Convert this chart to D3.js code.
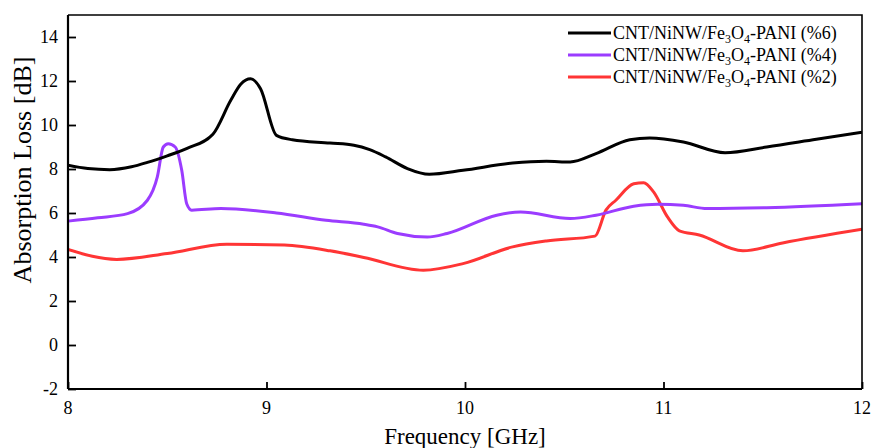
<!DOCTYPE html>
<html>
<head>
<meta charset="utf-8">
<script src="https://cdn.jsdelivr.net/npm/d3@7/dist/d3.min.js"></script>
<style>
  html, body { margin: 0; padding: 0; background: #fff; }
  svg { display: block; font-family: "Liberation Serif", "Times New Roman", serif; }
</style>
</head>
<body>
<svg id="chart" width="873" height="448"></svg>
<script>
// Frequency sweep, GHz
const xTicks = [8, 9, 10, 11, 12];
const yTicks = [-2, 0, 2, 4, 6, 8, 10, 12, 14];

// Absorption loss (dB) for each filler loading, sampled as [frequency, value]
const loading6 = [
  [8.00, 8.17], [8.10, 8.02], [8.21, 7.97], [8.32, 8.10], [8.40, 8.30], [8.50, 8.60],
  [8.60, 8.94], [8.73, 9.58], [8.82, 11.12], [8.87, 11.85], [8.92, 12.10], [8.97, 11.65],
  [9.05, 9.53], [9.13, 9.33], [9.32, 9.18], [9.44, 9.08], [9.52, 8.88], [9.60, 8.55],
  [9.71, 8.02], [9.82, 7.76], [9.99, 7.94], [10.24, 8.27], [10.41, 8.35], [10.53, 8.32],
  [10.66, 8.70], [10.83, 9.33], [10.93, 9.41], [11.10, 9.23], [11.31, 8.74], [11.52, 9.00],
  [11.77, 9.35], [12.00, 9.67]
];
const loading4 = [
  [8.00, 5.63], [8.15, 5.78], [8.30, 5.97], [8.40, 6.58], [8.45, 7.64], [8.48, 9.00],
  [8.505, 9.15], [8.54, 9.00], [8.573, 7.94], [8.598, 6.42], [8.623, 6.13], [8.77, 6.20],
  [9.05, 6.00], [9.30, 5.67], [9.49, 5.49], [9.56, 5.37], [9.66, 5.07], [9.81, 4.91],
  [9.91, 5.07], [10.16, 5.90], [10.28, 6.05], [10.53, 5.75], [10.66, 5.90], [10.85, 6.31],
  [10.97, 6.40], [11.10, 6.35], [11.22, 6.20], [11.52, 6.24], [12.00, 6.42]
];
const loading2 = [
  [8.00, 4.34], [8.245, 3.89], [8.50, 4.16], [8.80, 4.58], [9.09, 4.54], [9.32, 4.28],
  [9.49, 3.98], [9.79, 3.40], [9.99, 3.70], [10.24, 4.46], [10.41, 4.73], [10.655, 4.95],
  [10.71, 6.13], [10.76, 6.58], [10.85, 7.33], [10.90, 7.38], [10.95, 6.96], [11.02, 5.82],
  [11.08, 5.19], [11.18, 5.00], [11.40, 4.28], [11.60, 4.64], [12.00, 5.26]
];

const series = [
  { name: "(%6)", values: loading6, color: "#000000" },
  { name: "(%4)", values: loading4, color: "#9b3cff" },
  { name: "(%2)", values: loading2, color: "#ff3535" }
];

const svg = d3.select("#chart");
const margin = { top: 15, right: 11, bottom: 59, left: 68 };
const W = 873, H = 448;
const innerW = W - margin.left - margin.right;
const innerH = H - margin.top - margin.bottom;

const x = d3.scaleLinear().domain([8, 12]).range([margin.left, margin.left + innerW]);
const y = d3.scaleLinear().domain([-2, 15]).range([margin.top + innerH, margin.top]);

// Curves
const line = d3.line()
  .x(d => x(d[0]))
  .y(d => y(d[1]))
  .curve(d3.curveMonotoneX);

const plot = svg.append("g");
plot.append("clipPath").attr("id", "clip")
  .append("rect")
  .attr("x", margin.left).attr("y", margin.top)
  .attr("width", innerW).attr("height", innerH);

plot.selectAll("path.series")
  .data(series.slice().reverse())
  .join("path")
  .attr("class", "series")
  .attr("clip-path", "url(#clip)")
  .attr("fill", "none")
  .attr("stroke", d => d.color)
  .attr("stroke-width", 3)
  .attr("stroke-linejoin", "round")
  .attr("d", d => line(d.values));

// Frame: top and right edges
svg.append("path")
  .attr("d", `M${margin.left},${margin.top}H${margin.left + innerW}V${margin.top + innerH}`)
  .attr("fill", "none").attr("stroke", "#000").attr("stroke-width", 1.6);

// Left axis, ticks pointing inward
const yAxis = d3.axisRight(y).tickValues(yTicks).tickSize(8).tickFormat("");
const gy = svg.append("g").attr("transform", `translate(${margin.left},0)`).call(yAxis);
gy.select(".domain").attr("stroke-width", 2.2).attr("d", `M0,${margin.top}V${margin.top + innerH}`);
gy.selectAll(".tick line").attr("stroke-width", 1.8);

svg.append("g").selectAll("text")
  .data(yTicks)
  .join("text")
  .attr("x", margin.left - 10)
  .attr("y", d => y(d) + 6)
  .attr("text-anchor", "end")
  .attr("font-size", 18)
  .text(d => d);

// Bottom axis, ticks pointing inward
const xAxis = d3.axisTop(x).tickValues(xTicks).tickSize(7).tickFormat("");
const gx = svg.append("g").attr("transform", `translate(0,${margin.top + innerH})`).call(xAxis);
gx.select(".domain").attr("stroke-width", 2.2).attr("d", `M${margin.left},0H${margin.left + innerW}`);
gx.selectAll(".tick line").attr("stroke-width", 1.8);

svg.append("g").selectAll("text")
  .data(xTicks)
  .join("text")
  .attr("x", d => x(d))
  .attr("y", margin.top + innerH + 25)
  .attr("text-anchor", "middle")
  .attr("font-size", 18)
  .text(d => d);

// Axis titles
svg.append("text")
  .attr("x", x(10))
  .attr("y", 444)
  .attr("text-anchor", "middle")
  .attr("font-size", 23)
  .text("Frequency [GHz]");

svg.append("text")
  .attr("transform", `translate(31,${(53 + 287) / 2}) rotate(-90)`)
  .attr("text-anchor", "middle")
  .attr("font-size", 26)
  .text("Absorption Loss [dB]");

// Legend
const legend = svg.append("g");
const rows = legend.selectAll("g")
  .data(series)
  .join("g")
  .attr("transform", (d, i) => `translate(568,${33 + i * 22})`);

rows.append("line")
  .attr("x1", 0).attr("x2", 43)
  .attr("stroke", d => d.color)
  .attr("stroke-width", 3);

const label = rows.append("text")
  .attr("x", 45)
  .attr("y", 6)
  .attr("font-size", 18);
label.append("tspan").text("CNT/NiNW/Fe");
label.append("tspan").attr("font-size", 12).attr("dy", 4).text("3");
label.append("tspan").attr("dy", -4).text("O");
label.append("tspan").attr("font-size", 12).attr("dy", 4).text("4");
label.append("tspan").attr("dy", -4).text(d => "-PANI " + d.name);
</script>
</body>
</html>
